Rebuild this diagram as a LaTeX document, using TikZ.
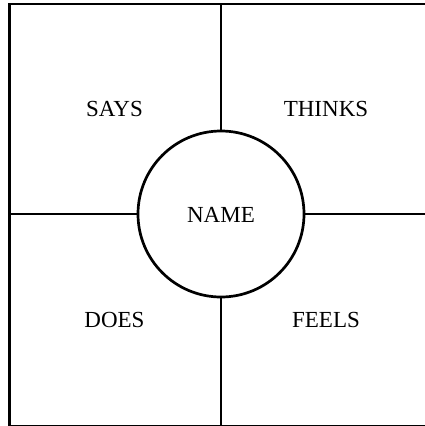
\documentclass[tikz,border=0pt]{standalone}
\usepackage{fontspec}
\setmainfont{Liberation Serif}
\begin{document}
\begin{tikzpicture}[x=1pt,y=-1pt,
  frame/.style={line width=2.7pt,black},
  label/.style={anchor=base,inner sep=0pt,font=\fontsize{23}{26}\selectfont}]
\useasboundingbox (0,0) rectangle (424,426);
% circle
\node[draw,line width=2.7pt,circle,minimum size=166pt,inner sep=0pt] (name) at (221,214) {};
\node[label] (nametext) at (221,222.7) {NAME};
% frame coordinates
\coordinate (tl) at (9.5,4);
\coordinate (tr) at (430,4);
\coordinate (bl) at (9.5,426);
\coordinate (br) at (430,426);
\coordinate (tm) at (221,4);
\coordinate (bm) at (221,430);
\coordinate (lm) at (9.5,214);
\coordinate (rm) at (430,214);
\draw[frame] (tr) -- (tl) -- (bl);
\draw[frame,line width=2pt] (bl) -- (br);
\draw[frame] (tm) -- (name.north);
\draw[frame] (name.south) -- (bm);
\draw[frame] (lm) -- (name.west);
\draw[frame] (name.east) -- (rm);
% labels
\node[label] (says) at (114.5,116.7) {SAYS};
\node[label] (thinks) at (326,116.7) {THINKS};
\node[label] (does) at (114.5,327) {DOES};
\node[label] (feels) at (326,327) {FEELS};
\end{tikzpicture}
\end{document}
